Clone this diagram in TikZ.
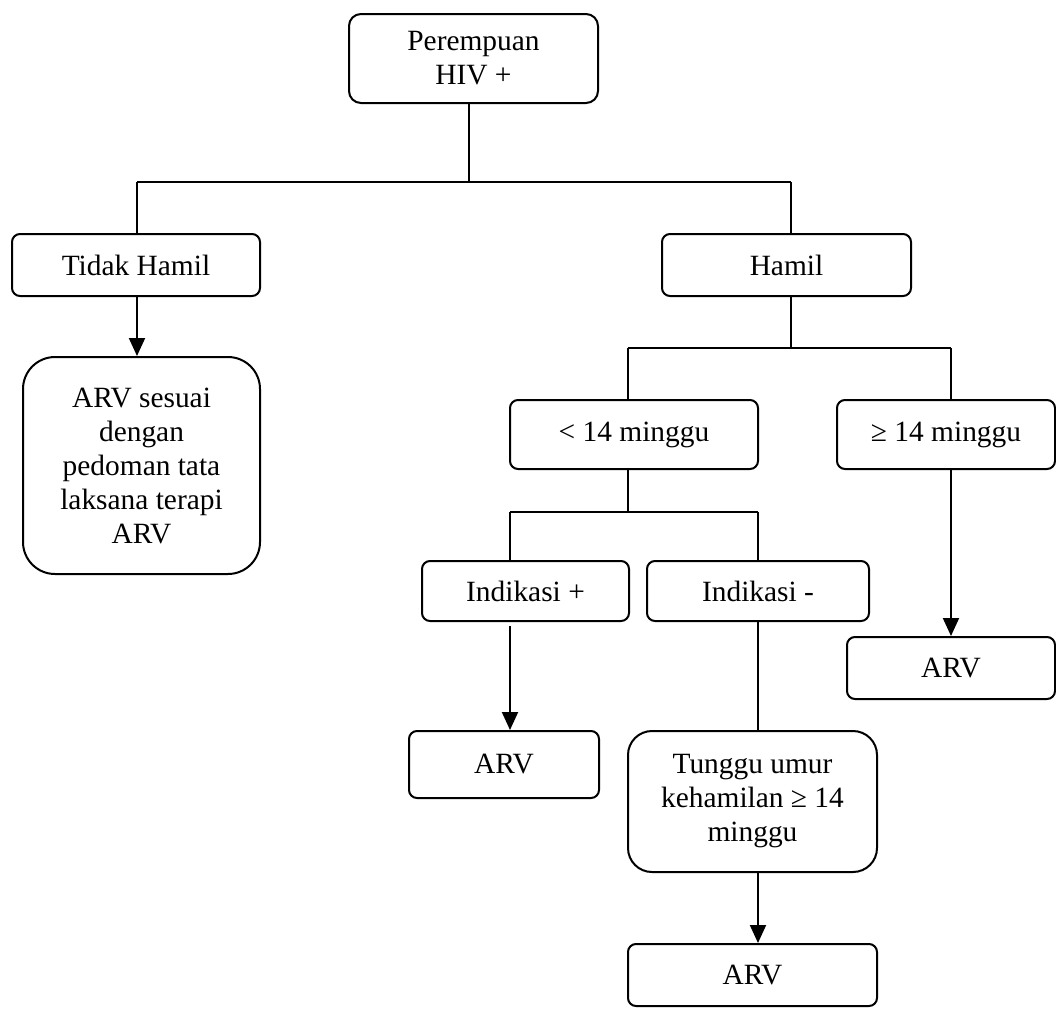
\documentclass[tikz,border=0pt]{standalone}
\usepackage{fontspec}
\setmainfont{Liberation Serif}
\usetikzlibrary{arrows.meta, positioning}

\begin{document}
\begin{tikzpicture}[
    x=0.5pt, y=-0.5pt,
    every node/.style={font=\fontsize{14.7}{17}\selectfont},
    flowbox/.style={rectangle, draw, line width=1pt, rounded corners=4pt, align=center, inner sep=0pt},
    bigbox/.style={flowbox, rounded corners=16pt},
    link/.style={line width=0.8pt},
    arrow/.style={-{Triangle[length=9pt, width=8pt]}, line width=1pt}
]
\useasboundingbox (0,0) rectangle (1056,1008);

\node[flowbox, rounded corners=6pt, minimum width=124.5pt, minimum height=44.5pt] (hiv) at (473.5,58.5) {Perempuan\\HIV +};

\node[flowbox, minimum width=124pt, minimum height=31pt] (tidak) at (136,265) {Tidak Hamil};
\node[flowbox, minimum width=124.5pt, minimum height=31pt] (hamil) at (786.5,265) {Hamil};

\node[bigbox, minimum width=118.5pt, minimum height=108.5pt] (arvsesuai) at (141.5,465.5) {ARV sesuai\\dengan\\pedoman tata\\laksana terapi\\ARV};

\node[flowbox, minimum width=124pt, minimum height=34.5pt] (kurang) at (634,434.5) {< 14 minggu};
\node[flowbox, minimum width=109pt, minimum height=34.5pt] (lebih) at (946,434.5) {≥ 14 minggu};

\node[flowbox, minimum width=103.5pt, minimum height=30pt] (indplus) at (525.5,591) {Indikasi +};
\node[flowbox, minimum width=111pt, minimum height=30pt] (indmin) at (758,591) {Indikasi -};

\node[flowbox, minimum width=104pt, minimum height=31pt] (arvb) at (951,668) {ARV};
\node[flowbox, minimum width=95pt, minimum height=33.5pt] (arva) at (504,764.5) {ARV};
\node[bigbox, rounded corners=12pt, minimum width=124.5pt, minimum height=70.5pt] (tunggu) at (752.5,801.5) {Tunggu umur\\kehamilan ≥ 14\\minggu};
\node[flowbox, minimum width=124.5pt, minimum height=31pt] (arvc) at (752.5,975) {ARV};

% first split
\coordinate (bus1) at (469,182);
\coordinate (bus1l) at (137,182);
\coordinate (bus1r) at (791,182);
\draw[link] (hiv.south -| bus1) -- (bus1);
\draw[link] (bus1l) -- (bus1r);
\draw[link] (bus1l) -- (bus1l |- tidak.north);
\draw[link] (bus1r) -- (bus1r |- hamil.north);
\draw[arrow] (bus1l |- tidak.south) -- (bus1l |- arvsesuai.north);

% second split
\coordinate (bus2l) at (628,348);
\coordinate (bus2r) at (951,348);
\draw[link] (bus1r |- hamil.south) -- (bus1r |- bus2l);
\draw[link] (bus2l) -- (bus2r);
\draw[link] (bus2l) -- (bus2l |- kurang.north);
\draw[link] (bus2r) -- (bus2r |- lebih.north);
\draw[arrow] (bus2r |- lebih.south) -- (bus2r |- arvb.north);

% third split
\coordinate (bus3l) at (510,512);
\coordinate (bus3r) at (758,512);
\draw[link] (bus2l |- kurang.south) -- (bus2l |- bus3l);
\draw[link] (bus3l) -- (bus3r);
\draw[link] (bus3l) -- (bus3l |- indplus.north);
\draw[link] (bus3r) -- (bus3r |- indmin.north);
\draw[arrow, shorten <=2pt] (bus3l |- indplus.south) -- (bus3l |- arva.north);
\draw[link] (bus3r |- indmin.south) -- (bus3r |- tunggu.north);
\draw[arrow] (bus3r |- tunggu.south) -- (bus3r |- arvc.north);

\end{tikzpicture}
\end{document}
